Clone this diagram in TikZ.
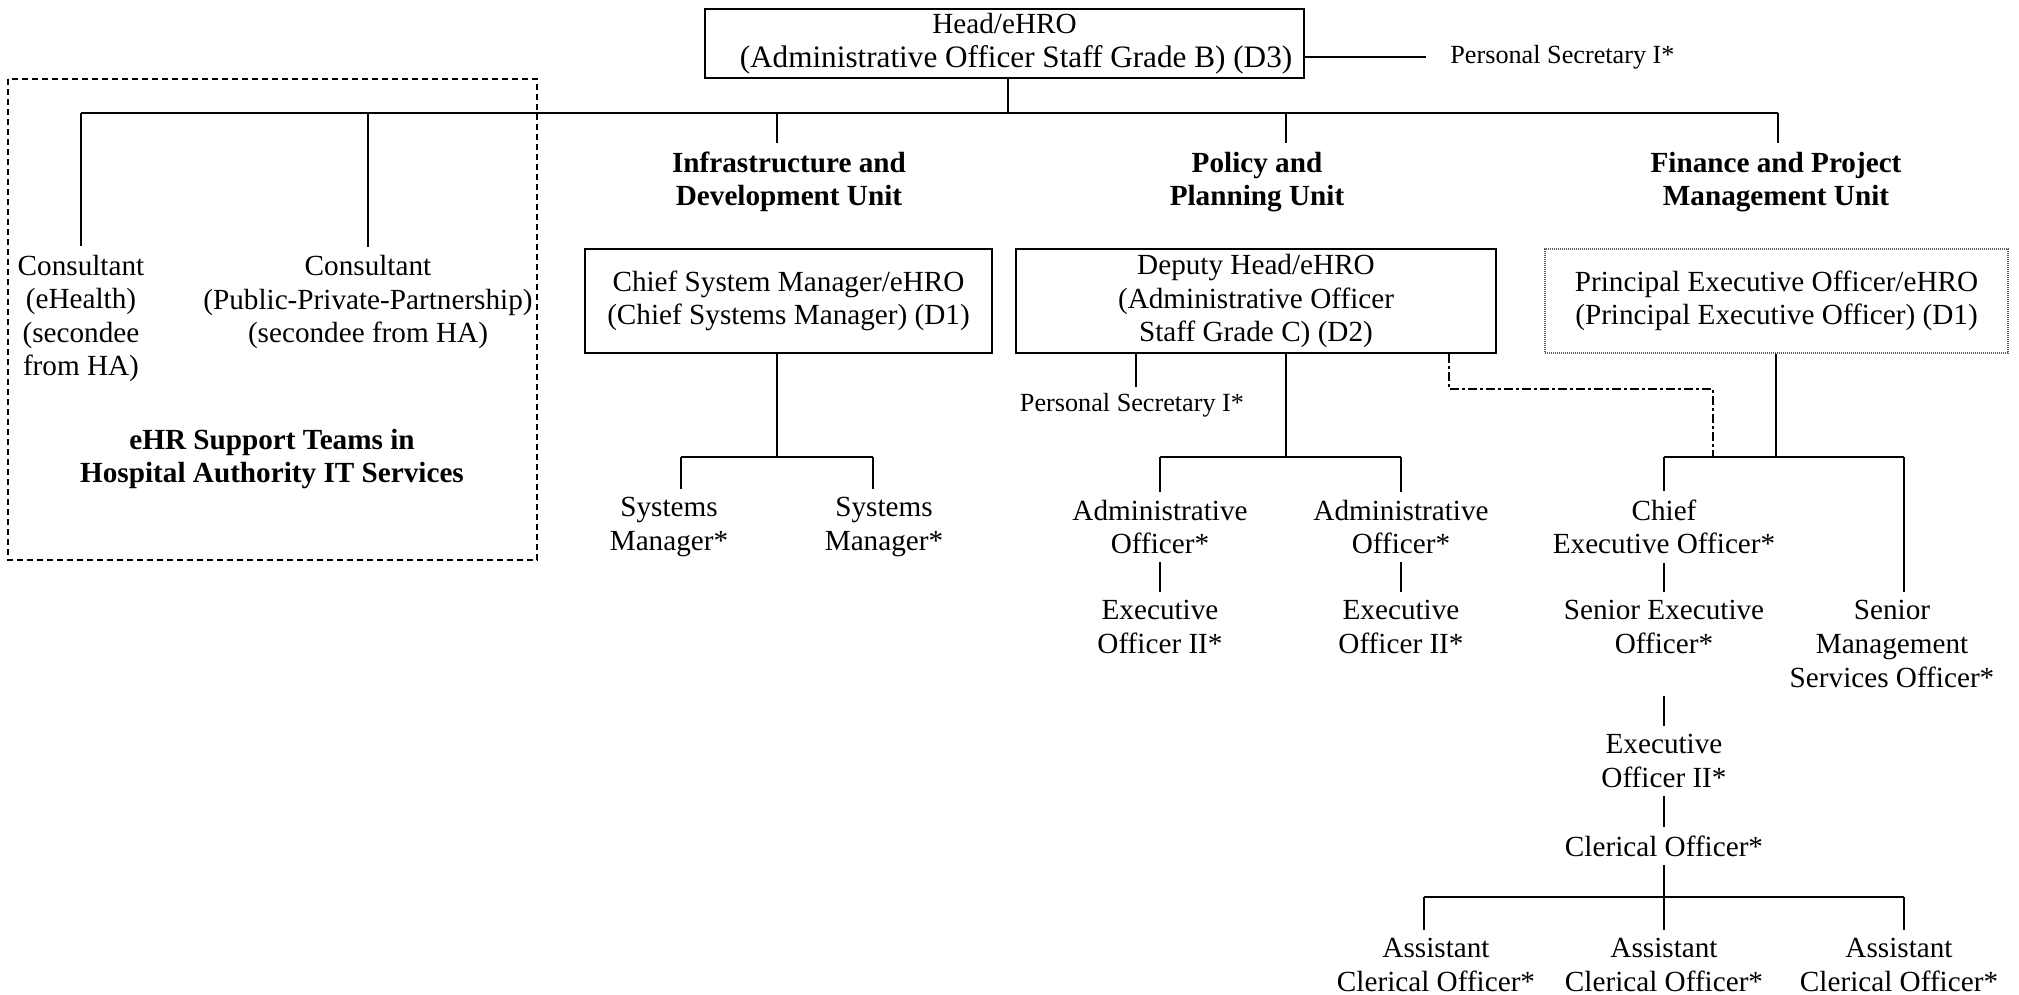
\documentclass[tikz,border=0pt]{standalone}
\usepackage{fontspec}
\setmainfont{Liberation Serif}
\begin{document}
\begin{tikzpicture}[x=0.5pt,y=-0.5pt]
\tikzset{
  txt/.style={font=\fontsize{14.6}{16.8}\selectfont, align=center, inner xsep=0pt, inner ysep=4pt},
  smalltxt/.style={txt, font=\fontsize{13.1}{15.5}\selectfont},
  btxt/.style={txt, font=\fontsize{14.6}{16.8}\selectfont\bfseries},
  unitbox/.style={draw, line width=1.3pt, font=\fontsize{14.6}{16.8}\selectfont, align=center, inner sep=0pt, minimum height=52pt},
  dotbox/.style={unitbox, draw=black!65, line width=1.4pt, dash pattern=on 0.6pt off 0.4pt},
  ln/.style={line width=1pt},
  thickln/.style={line width=1.4pt},
  dashdotln/.style={line width=1.3pt, dash pattern=on 4.5pt off 1.5pt on 1.5pt off 1.5pt},
  teambox/.style={line width=1pt, dash pattern=on 3pt off 2pt},
}
\useasboundingbox (0,0) rectangle (2019,995);

% top
\node[unitbox, minimum width=299.5pt, minimum height=34.5pt] (head) at (1004.5,43.5) {Head/eHRO\\\hspace*{11.5pt}{\fontsize{15.6}{16.8}\selectfont (Administrative Officer Staff Grade B) (D3)}};
\node[smalltxt, anchor=west, inner xsep=12pt] (ps1) at (1426,57) {Personal Secretary I*};
\draw[ln] (head.east |- ps1.west) -- (ps1.west);

\coordinate (jhead) at (1008,113);
\coordinate (jc1) at (81,113);
\coordinate (jc2) at (368,113);
\coordinate (ji) at (777,113);
\coordinate (jp) at (1286,113);
\coordinate (jf) at (1778,113);
\draw[ln] (head.south -| jhead) -- (jhead);
\draw[thickln] (jc1) -- (jp);
\draw[ln] (jp) -- (jf);

% eHR support teams
\draw[teambox] (8,79) rectangle (537,560);
\node[txt] (cons1) at (81,318.5) {Consultant\\(eHealth)\\(secondee\\from HA)};
\node[txt] (cons2) at (368,302) {Consultant\\(Public-Private-Partnership)\\(secondee from HA)};
\node[btxt] (team) at (272,459) {eHR Support Teams in\\Hospital Authority IT Services};
\draw[ln] (jc1) -- (jc1 |- cons1.north);
\draw[ln] (jc2) -- (jc2 |- cons2.north);

% unit headings
\node[btxt] (infra) at (789,182) {Infrastructure and\\Development Unit};
\node[btxt] (policy) at (1257,182) {Policy and\\Planning Unit};
\node[btxt] (finance) at (1776,182) {Finance and Project\\Management Unit};
\draw[ln] (ji) -- (ji |- infra.north);
\draw[ln] (jp) -- (jp |- policy.north);
\draw[ln] (jf) -- (jf |- finance.north);

% infrastructure unit
\node[unitbox, minimum width=203.5pt] (csm) at (788.5,301) {Chief System Manager/eHRO\\(Chief Systems Manager) (D1)};
\node[txt] (sm1) at (669,527) {Systems\\Manager*};
\node[txt] (sm2) at (884,527) {Systems\\Manager*};
\coordinate (jcs) at (777,457);
\coordinate (jsm1) at (681,457);
\coordinate (jsm2) at (873,457);
\draw[ln] (jcs |- csm.south) -- (jcs);
\draw[ln] (jsm1) -- (jsm2);
\draw[ln] (jsm1) -- (jsm1 |- sm1.north);
\draw[ln] (jsm2) -- (jsm2 |- sm2.north);

% policy unit
\node[unitbox, minimum width=240pt] (dep) at (1256,301) {Deputy Head/eHRO\\(Administrative Officer\\Staff Grade C) (D2)};
\node[smalltxt] (ps2) at (1132,405) {Personal Secretary I*};
\coordinate (jps2) at (1136,387);
\draw[ln] (dep.south -| jps2) -- (jps2);
\node[txt] (ao1) at (1160,527) {Administrative\\Officer*};
\node[txt] (ao2) at (1401,527) {Administrative\\Officer*};
\node[txt] (eo1) at (1160,627) {Executive\\Officer II*};
\node[txt] (eo2) at (1401,627) {Executive\\Officer II*};
\coordinate (jd) at (1286,457);
\coordinate (jao1) at (1160,457);
\coordinate (jao2) at (1401,457);
\draw[ln] (jd |- dep.south) -- (jd);
\draw[ln] (jao1) -- (jao2);
\draw[ln] (jao1) -- (jao1 |- ao1.north);
\draw[ln] (jao2) -- (jao2 |- ao2.north);
\draw[ln] (ao1.south) -- (eo1.north);
\draw[ln] (ao2.south) -- (eo2.north);

% finance unit
\node[dotbox, minimum width=231.5pt] (pri) at (1776.5,301) {Principal Executive Officer/eHRO\\(Principal Executive Officer) (D1)};
\node[txt] (ceo) at (1664,527) {Chief\\Executive Officer*};
\node[txt] (seo) at (1664,627) {Senior Executive\\Officer*};
\node[txt] (smso) at (1892,644) {Senior\\Management\\Services Officer*};
\node[txt] (eo3) at (1664,761) {Executive\\Officer II*};
\node[txt] (co) at (1664,846) {Clerical Officer*};
\node[txt] (aco1) at (1436,965) {Assistant\\Clerical Officer*};
\node[txt] (aco2) at (1664,965) {Assistant\\Clerical Officer*};
\node[txt] (aco3) at (1899,965) {Assistant\\Clerical Officer*};
\coordinate (jr) at (1776,457);
\coordinate (jceo) at (1664,457);
\coordinate (jsmso) at (1904,457);
\draw[ln] (jr |- pri.south) -- (jr);
\draw[ln] (jceo) -- (jsmso);
\draw[ln] (jceo) -- (ceo.north);
\draw[ln] (jsmso) -- (jsmso |- smso.north);
\draw[ln] (ceo.south) -- (seo.north);
\draw[ln, shorten <=17pt] (seo.south) -- (eo3.north);
\draw[ln] (eo3.south) -- (co.north);
\coordinate (jco) at (1664,897);
\coordinate (jac1) at (1424,897);
\coordinate (jac3) at (1904,897);
\draw[ln] (co.south) -- (jco);
\draw[thickln] (jac1) -- (jac3);
\draw[ln] (jac1) -- (jac1 |- aco1.north);
\draw[ln] (jco) -- (aco2.north);
\draw[ln] (jac3) -- (jac3 |- aco3.north);

% cross link
\coordinate (dd1) at (1449,389);
\coordinate (dd2) at (1713,389);
\draw[dashdotln] (dep.south -| dd1) -- (dd1) -- (dd2) -- (dd2 |- jceo);
\end{tikzpicture}
\end{document}
